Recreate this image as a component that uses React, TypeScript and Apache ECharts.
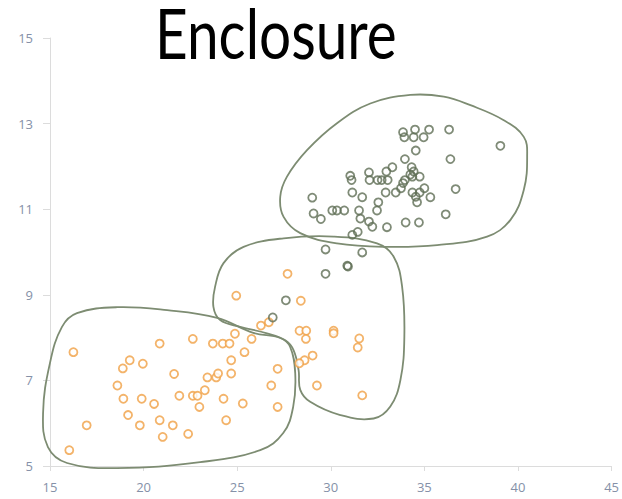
import React, { useEffect, useRef } from "react";
import * as echarts from "echarts";

const xTicks = [15, 20, 25, 30, 35, 40, 45];
const yTicks = [5, 7, 9, 11, 13, 15];

const orangePoints: number[][] = [
  [16.25, 7.66], [16.96, 5.95], [16.03, 5.37], [18.6, 6.88], [18.92, 6.57], [18.89, 7.28],
  [19.26, 7.47], [19.17, 6.19], [19.8, 5.95], [19.9, 6.57], [19.96, 7.39], [20.56, 6.45],
  [20.86, 7.86], [20.86, 6.07], [21.02, 5.68], [21.56, 5.95], [21.63, 7.15], [21.91, 6.64],
  [22.38, 5.75], [22.63, 7.97], [22.63, 6.64], [22.88, 6.64], [22.98, 6.38], [23.27, 6.77],
  [23.41, 7.07], [23.7, 7.86], [23.88, 7.07], [23.98, 7.16], [24.23, 7.86], [24.59, 7.86],
  [24.27, 6.57], [24.41, 6.07], [24.68, 7.16], [24.68, 7.47], [24.88, 8.09], [24.95, 8.98],
  [25.3, 6.46], [25.39, 7.66], [25.77, 7.97], [26.27, 8.28], [26.69, 8.36], [26.82, 6.88],
  [27.16, 7.27], [27.16, 6.38], [27.69, 9.49], [28.4, 8.86], [28.33, 8.16], [28.69, 8.16],
  [28.67, 7.97], [29.03, 7.58], [28.6, 7.47], [28.32, 7.4], [29.26, 6.88], [30.15, 8.16],
  [30.15, 8.1], [31.52, 7.98], [31.44, 7.77], [31.68, 6.65],
];

const darkPoints: number[][] = [
  [26.9, 8.47], [27.6, 8.87], [29.72, 10.06], [31.68, 9.99], [29.72, 9.49], [30.88, 9.68],
  [30.92, 9.66], [31.15, 10.4], [31.44, 10.47],
  [29.01, 11.27], [29.08, 10.9], [29.47, 10.77], [30.08, 10.97], [30.33, 10.97], [30.72, 10.97],
  [31.04, 11.78], [31.11, 11.68], [31.15, 11.39], [31.68, 11.28], [31.51, 10.97], [31.58, 10.78],
  [32.04, 10.71], [32.22, 10.59], [32.47, 10.97], [32.54, 11.16], [32.04, 11.86], [32.07, 11.68],
  [32.5, 11.68], [32.72, 11.68], [33.04, 11.68], [32.97, 11.88], [33.29, 11.98], [32.93, 11.39],
  [33.0, 10.58], [33.47, 11.39], [33.75, 11.49], [33.86, 11.61], [33.96, 11.68], [33.96, 12.17],
  [33.86, 12.8], [33.93, 12.68], [34.5, 12.86], [34.43, 12.68], [34.96, 12.68], [35.25, 12.86],
  [36.32, 12.86], [34.54, 12.37], [34.32, 11.98], [34.43, 11.88], [34.25, 11.81], [34.36, 11.76],
  [34.75, 11.76], [34.36, 11.39], [34.54, 11.29], [34.61, 11.16], [35.0, 11.49], [34.75, 11.39],
  [35.32, 11.28], [36.39, 12.17], [36.67, 11.47], [36.14, 10.88], [34.0, 10.69], [34.71, 10.69],
  [39.06, 12.48],
];

const enclosureLow: number[][] = [
  [16.44, 8.57], [18.58, 8.71], [21.26, 8.64], [23.93, 8.46], [25.86, 8.11], [27.3, 7.99],
  [27.83, 7.78], [28.1, 7.17], [27.99, 6.38], [27.46, 5.77], [26.23, 5.37], [23.02, 5.09],
  [18.58, 4.95], [15.91, 5.07], [14.89, 5.44], [14.63, 6.24], [15.0, 7.41], [15.64, 8.25],
];

const enclosureMid: number[][] = [
  [23.73, 8.72], [23.82, 9.19], [24.27, 9.74], [25.34, 10.12], [27.48, 10.32], [30.15, 10.36],
  [32.47, 10.2], [33.36, 9.89], [33.81, 9.19], [33.93, 8.02], [33.72, 7.01], [33.18, 6.39],
  [32.29, 6.11], [30.51, 6.19], [28.9, 6.5], [28.37, 6.78], [28.28, 7.24], [28.01, 7.71],
  [27.57, 7.94], [26.59, 8.1], [25.16, 8.25], [24.09, 8.41],
];

const enclosureHigh: number[][] = [
  [34.25, 13.67], [32.11, 13.47], [30.33, 13.01], [28.73, 12.38], [27.66, 11.76], [27.3, 11.29],
  [27.48, 10.82], [28.37, 10.44], [30.33, 10.2], [33.0, 10.12], [35.68, 10.16], [38.35, 10.36],
  [39.6, 10.75], [40.31, 11.45], [40.49, 12.23], [40.31, 12.69], [39.24, 13.08], [37.46, 13.43],
  [36.04, 13.63],
];

const enclosureColor = "#7d8c72";

function enclosureSeries(name: string, pts: number[][]) {
  return {
    type: "custom",
    name,
    coordinateSystem: "cartesian2d",
    clip: false,
    silent: true,
    z: 1,
    data: [[pts[0][0], pts[0][1]]],
    renderItem: (_params: any, api: any) => ({
      type: "polygon",
      shape: { points: pts.map((p) => api.coord(p)), smooth: 0.4 },
      style: { fill: "none", stroke: enclosureColor, lineWidth: 1.8 },
    }),
  };
}

export default function App() {
  const ref = useRef<HTMLDivElement>(null);
  useEffect(() => {
    document.body.style.margin = "0";
    const chart = echarts.init(ref.current!, undefined, { renderer: "svg" });
    const labelStyle = { color: "#8591a8", fontSize: 13, fontFamily: "Open Sans" };
    chart.setOption({
      animation: false,
      graphic: [
        {
          type: "text",
          x: 155,
          y: 2,
          scaleX: 0.81,
          style: {
            text: "Enclosure",
            fontFamily: "Lato",
            fontSize: 70,
            lineHeight: 60,
            fill: "#000",
            verticalAlign: "top",
            align: "left",
          },
        },
      ],
      grid: { left: 50, right: 10, top: 38, bottom: 33 },
      xAxis: {
        type: "value",
        min: xTicks[0],
        max: xTicks[xTicks.length - 1],
        interval: 5,
        splitLine: { show: false },
        axisLine: { show: true, lineStyle: { color: "#dcdcdc" } },
        axisTick: { show: true, length: 5, lineStyle: { color: "#dcdcdc" } },
        axisLabel: { ...labelStyle, margin: 14 },
      },
      yAxis: {
        type: "value",
        min: yTicks[0],
        max: yTicks[yTicks.length - 1],
        interval: 2,
        splitLine: { show: false },
        axisLine: { show: true, lineStyle: { color: "#dcdcdc" } },
        axisTick: { show: true, length: 7, lineStyle: { color: "#dcdcdc" } },
        axisLabel: { ...labelStyle, margin: 17 },
      },
      series: [
        enclosureSeries("low", enclosureLow),
        enclosureSeries("mid", enclosureMid),
        enclosureSeries("high", enclosureHigh),
        {
          type: "scatter",
          name: "orange",
          data: orangePoints,
          symbol: "circle",
          symbolSize: 8,
          z: 3,
          itemStyle: { color: "#ffffff", borderColor: "#f0a045", borderWidth: 1.8 },
        },
        {
          type: "scatter",
          name: "dark",
          data: darkPoints,
          symbol: "circle",
          symbolSize: 8,
          z: 3,
          itemStyle: { color: "rgba(255,255,255,0)", borderColor: "#5f6e55", borderWidth: 1.8 },
        },
      ],
    });
    return () => chart.dispose();
  }, []);
  return <div ref={ref} style={{ width: 622, height: 499 }} />;
}
